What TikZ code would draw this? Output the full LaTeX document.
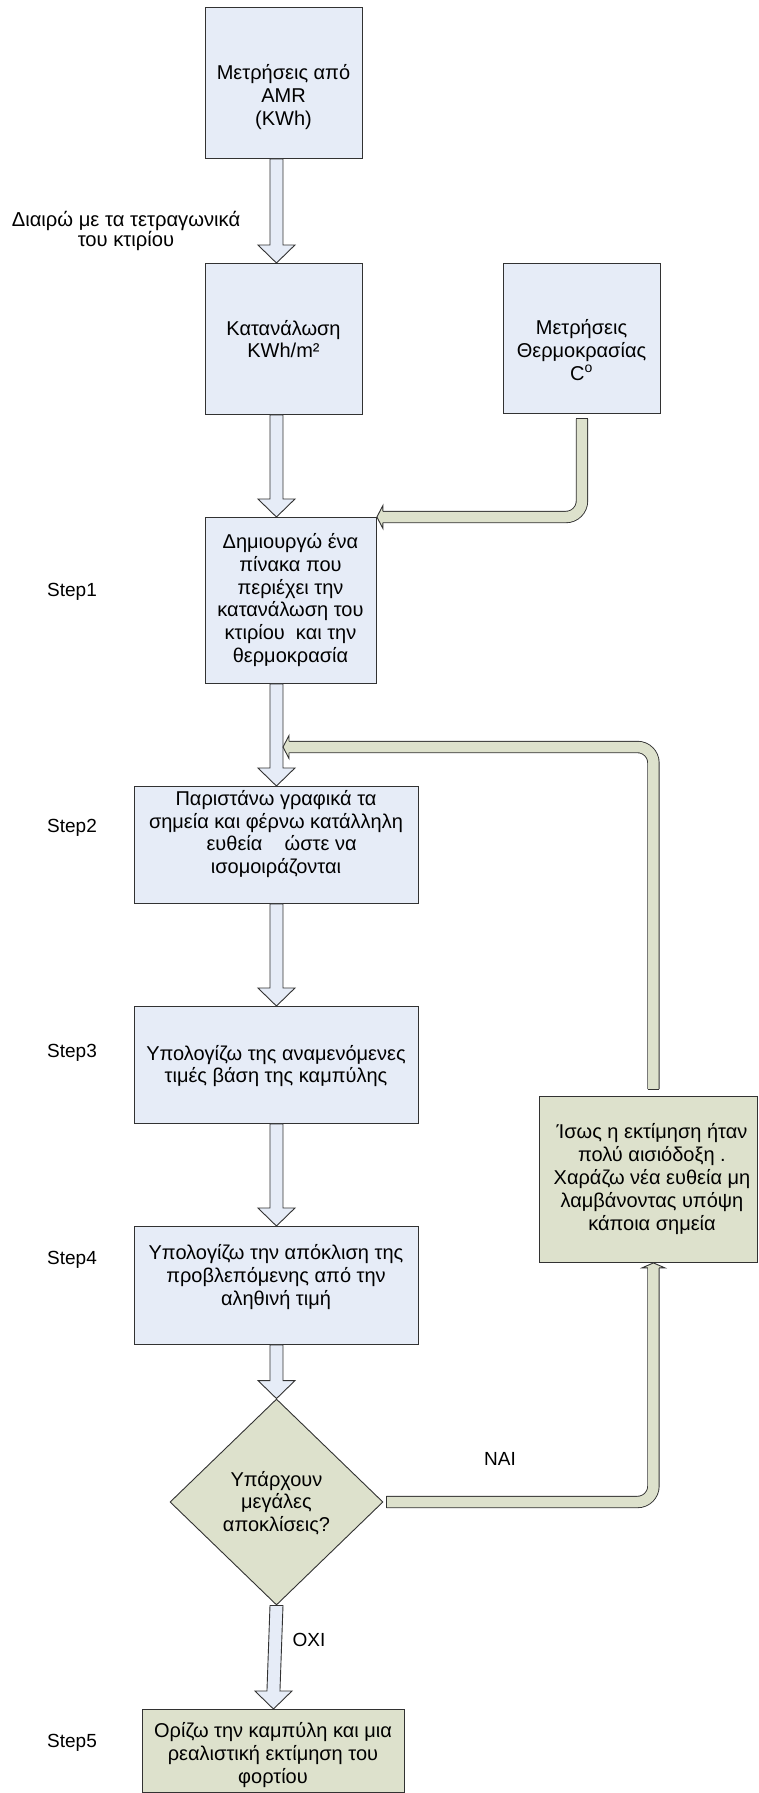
\documentclass[tikz,border=0pt]{standalone}
\usepackage{fontspec}
\setmainfont{Liberation Sans}
\usetikzlibrary{shapes.geometric,calc}

\definecolor{bfill}{RGB}{230,236,247}
\definecolor{gfill}{RGB}{221,225,204}
\definecolor{edge}{RGB}{50,50,50}

\tikzset{
  box/.style={draw=edge, line width=0.9pt, rectangle, inner sep=0pt, anchor=north west},
  bluebox/.style={box, fill=bfill},
  greenbox/.style={box, fill=gfill},
  txt/.style={align=center, font=\fontsize{20}{22.8}\selectfont, inner sep=0pt},
  lbl/.style={align=center, font=\fontsize{19}{18.5}\selectfont, inner sep=0pt},
  divlbl/.style={align=center, font=\fontsize{20.2}{18.5}\selectfont, inner sep=0pt},
  blockarr/.style={draw=edge, line width=0.9pt, fill=bfill, line join=miter},
  gshaft/.style={draw=edge, line width=0.9pt, double=gfill, double distance=10.5pt, rounded corners=16pt},
  ghead/.style={draw=edge, fill=gfill, line width=0.9pt, line join=miter},
  gcap/.style={draw=edge, line width=0.9pt},
}

\newcommand\blockarrow[2]{%
  \draw[blockarr] let \p1=(#1), \p2=(#2) in
    (\x1-6.5pt,\y1) -- (\x2-6.5pt,\y2+18pt) -- (\x2-18.5pt,\y2+18pt) -- (\x2,\y2)
    -- (\x2+18.5pt,\y2+18pt) -- (\x2+6.5pt,\y2+18pt) -- (\x1+6.5pt,\y1) -- cycle;}

\begin{document}
\begin{tikzpicture}[x=1pt,y=-1pt]
\useasboundingbox (0,0) rectangle (758,1793);
\fill[white] (0,0) rectangle (758,1793);

% boxes
\node[bluebox, minimum width=157pt, minimum height=151pt] (b1) at (205,7) {};
\node[bluebox, minimum width=157pt, minimum height=151pt] (b2) at (205,263) {};
\node[bluebox, minimum width=157pt, minimum height=150pt] (temp) at (503,263) {};
\node[bluebox, minimum width=171pt, minimum height=166pt] (b3) at (205,517) {};
\node[bluebox, minimum width=284pt, minimum height=117pt] (b4) at (134,786) {};
\node[bluebox, minimum width=284pt, minimum height=117pt] (b5) at (134,1006) {};
\node[bluebox, minimum width=284pt, minimum height=118pt] (b6) at (134,1226) {};
\node[draw=edge, line width=0.9pt, fill=gfill, shape=diamond, inner sep=0pt,
      minimum width=213pt, minimum height=206pt] (dia) at (276.5,1502) {};
\node[greenbox, minimum width=218pt, minimum height=166pt] (rej) at (539,1096) {};
\node[greenbox, minimum width=262pt, minimum height=83pt] (b7) at (142,1709) {};

% texts
\node[txt] (t1) at (283.5,97) {Μετρήσεις από\\AMR\\(KWh)};
\node[txt] (t2) at (283.5,339) {Κατανάλωση\\KWh/m²};
\node[txt] (tt) at (581.5,350) {Μετρήσεις\\Θερμοκρασίας\\C\textsuperscript{o}};
\node[txt] (t3) at (290.5,600) {Δημιουργώ ένα\\πίνακα που\\περιέχει την\\κατανάλωση του\\κτιρίου\ \ και την\\θερμοκρασία};
\node[txt] (t4) at (276,834) {Παριστάνω γραφικά τα\\σημεία και φέρνω κατάλληλη\\\ \ ευθεία\ \ \ \ ώστε να\\ισομοιράζονται};
\node[txt] (t5) at (276,1066) {Υπολογίζω της αναμενόμενες\\τιμές βάση της καμπύλης};
\node[txt] (t6) at (276,1277) {Υπολογίζω την απόκλιση της\\προβλεπόμενης από την\\αληθινή τιμή};
\node[txt] (td) at (276.5,1503) {Υπάρχουν\\μεγάλες\\αποκλίσεις?};
\node[txt] (tr) at (652,1179) {Ίσως η εκτίμηση ήταν\\πολύ αισιόδοξη .\\Χαράζω νέα ευθεία μη\\λαμβάνοντας υπόψη\\κάποια σημεία};
\node[txt] (t7) at (273,1755) {Ορίζω την καμπύλη και μια\\ρεαλιστική εκτίμηση του\\φορτίου};

% labels
\node[divlbl] (ldiv) at (126,231) {Διαιρώ με τα τετραγωνικά\\του κτιρίου};
\node[lbl] (s1) at (72,592) {Step1};
\node[lbl] (s2) at (72,828) {Step2};
\node[lbl] (s3) at (72,1053) {Step3};
\node[lbl] (s4) at (72,1260) {Step4};
\node[lbl] (s5) at (72,1743) {Step5};
\node[lbl] (nai) at (500,1459) {NAI};
\node[lbl] (oxi) at (309,1640) {OXI};

% blue block arrows
\blockarrow{b4.north |- b1.south}{b4.north |- b2.north}
\blockarrow{b4.north |- b2.south}{b4.north |- b3.north}
\blockarrow{b4.north |- b3.south}{b4.north}
\blockarrow{b4.south}{b5.north}
\blockarrow{b5.south}{b6.north}
\blockarrow{b6.south}{dia.north}
\blockarrow{dia.south}{b7.north}

% green connector: temperature -> table
\draw[gshaft] ($(temp.south)+(0,5)$) |- ($(b3.north east)+(6,0)$);
\draw[gcap] ($(temp.south)+(-5.7,5)$) -- ++(11.4,0);
\filldraw[ghead] ($(b3.north east)+(6,-5.7)$) -- ++(0,-5.8) -- (b3.north east)
   -- ($(b3.north east)+(6,11.5)$) -- ++(0,-5.8);

% green connector: feedback from re-estimation to step2
\coordinate (fb) at (283,747);
\draw[gshaft] ($(rej.north)+(5,-7)$) |- ($(fb)+(6,0)$);
\draw[gcap] ($(rej.north)+(-0.7,-7)$) -- ++(11.4,0);
\filldraw[ghead] ($(fb)+(6,-5.7)$) -- ++(0,-5.8) -- (fb)
   -- ($(fb)+(6,11.5)$) -- ++(0,-5.8);

% green connector: NAI from decision to re-estimation
\coordinate (rt) at ($(rej.south)+(5,0)$);
\draw[gshaft] ($(dia.east)+(3,0)$) -| ($(rt)+(0,5)$);
\draw[gcap] ($(dia.east)+(3,-5.7)$) -- ++(0,11.4);
\filldraw[ghead] ($(rt)+(-5.7,5)$) -- ++(-5.8,0) -- (rt)
   -- ($(rt)+(11.5,5)$) -- ++(-5.8,0);
\end{tikzpicture}
\end{document}
